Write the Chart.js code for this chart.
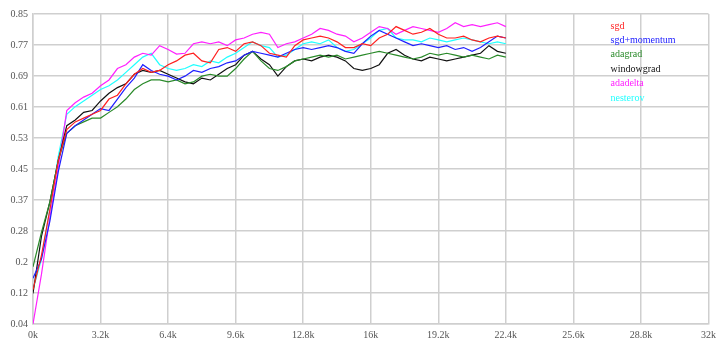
<!DOCTYPE html>
<html>
<head>
<meta charset="utf-8">
<script src="https://cdn.jsdelivr.net/npm/chart.js@4.4.0/dist/chart.umd.min.js"></script>
<style>
html,body{margin:0;padding:0;background:#fff;}
#wrap{width:721px;height:344px;position:relative;}
</style>
</head>
<body>
<div id="wrap"><canvas id="c" width="721" height="344"></canvas></div>
<script>
// iterations (every 400)
const iterations = [];
for (let i = 0; i <= 56; i++) iterations.push(i * 400);

const seriesNames = ["sgd", "sgd+momentum", "adagrad", "windowgrad", "adadelta", "nesterov"];
const seriesColors = ["#ff2020", "#2020ff", "#2a8a2a", "#111111", "#ff20ff", "#20ffff"];

const sgd = [0.13,0.22,0.34,0.47,0.55,0.57,0.58,0.59,0.60,0.63,0.64,0.67,0.695,0.71,0.70,0.705,0.72,0.73,0.745,0.75,0.73,0.725,0.76,0.765,0.755,0.775,0.78,0.77,0.75,0.745,0.74,0.77,0.785,0.79,0.795,0.79,0.78,0.765,0.765,0.775,0.77,0.79,0.80,0.82,0.81,0.80,0.805,0.815,0.80,0.79,0.79,0.795,0.785,0.78,0.79,0.795,0.79];
const sgdMomentum = [0.16,0.21,0.31,0.44,0.54,0.56,0.575,0.59,0.605,0.60,0.63,0.66,0.685,0.72,0.705,0.695,0.69,0.68,0.69,0.705,0.70,0.71,0.715,0.725,0.73,0.745,0.755,0.75,0.745,0.74,0.75,0.76,0.765,0.76,0.765,0.77,0.765,0.755,0.75,0.775,0.795,0.81,0.80,0.79,0.78,0.77,0.775,0.77,0.765,0.77,0.76,0.765,0.755,0.765,0.78,0.795,0.79];
const adagrad = [0.19,0.28,0.36,0.47,0.54,0.56,0.57,0.58,0.58,0.595,0.61,0.63,0.655,0.67,0.68,0.68,0.675,0.68,0.67,0.675,0.69,0.695,0.69,0.69,0.71,0.735,0.755,0.73,0.71,0.705,0.715,0.73,0.735,0.74,0.745,0.74,0.745,0.735,0.74,0.745,0.75,0.755,0.75,0.745,0.74,0.735,0.74,0.75,0.745,0.75,0.745,0.74,0.745,0.74,0.735,0.745,0.74];
const windowgrad = [0.12,0.27,0.36,0.47,0.56,0.575,0.595,0.60,0.625,0.645,0.66,0.67,0.695,0.705,0.70,0.705,0.695,0.685,0.675,0.67,0.685,0.68,0.695,0.71,0.72,0.745,0.755,0.735,0.72,0.69,0.715,0.73,0.735,0.73,0.74,0.745,0.74,0.73,0.71,0.705,0.71,0.72,0.75,0.76,0.745,0.735,0.73,0.74,0.735,0.73,0.735,0.74,0.745,0.75,0.77,0.755,0.75];
const adadelta = [0.04,0.17,0.32,0.45,0.60,0.62,0.635,0.645,0.665,0.68,0.71,0.72,0.74,0.75,0.745,0.77,0.76,0.748,0.75,0.775,0.78,0.775,0.78,0.77,0.785,0.79,0.80,0.805,0.80,0.765,0.775,0.78,0.79,0.80,0.815,0.81,0.80,0.795,0.78,0.79,0.805,0.82,0.815,0.80,0.81,0.82,0.815,0.81,0.805,0.815,0.83,0.82,0.825,0.82,0.825,0.83,0.82];
const nesterov = [0.13,0.21,0.34,0.48,0.59,0.61,0.625,0.64,0.655,0.665,0.68,0.70,0.72,0.74,0.75,0.72,0.71,0.705,0.71,0.72,0.715,0.73,0.725,0.74,0.75,0.765,0.78,0.77,0.765,0.74,0.745,0.76,0.775,0.78,0.775,0.785,0.765,0.755,0.76,0.775,0.79,0.81,0.815,0.79,0.785,0.785,0.78,0.79,0.785,0.78,0.785,0.79,0.785,0.78,0.775,0.78,0.775];

const seriesValues = [sgd, sgdMomentum, adagrad, windowgrad, adadelta, nesterov];

const yTickValues = [0.04,0.1213,0.2026,0.2839,0.3652,0.4465,0.5278,0.6091,0.6904,0.7717,0.853];
const yTickLabels = ["0.04","0.12","0.2","0.28","0.37","0.45","0.53","0.61","0.69","0.77","0.85"];
const xTickLabels = ["0k","3.2k","6.4k","9.6k","12.8k","16k","19.2k","22.4k","25.6k","28.8k","32k"];

const FONT = {family: "'Liberation Serif', 'DejaVu Serif', serif", size: 10};

const datasets = seriesNames.map((n, k) => ({
  label: n,
  data: iterations.map((x, i) => ({x: x, y: seriesValues[k][i]})),
  borderColor: seriesColors[k],
  borderWidth: 1.2,
  pointRadius: 0,
  tension: 0,
  fill: false
}));

const legendPlugin = {
  id: 'innerLegend',
  afterDatasetsDraw(chart) {
    const ctx = chart.ctx;
    const a = chart.chartArea;
    ctx.save();
    ctx.font = FONT.size + "px " + FONT.family;
    ctx.textBaseline = 'middle';
    ctx.textAlign = 'left';
    chart.data.datasets.forEach((d, i) => {
      ctx.fillStyle = d.borderColor;
      ctx.fillText(d.label, a.right - 98, a.top + 12 + i * 14.4);
    });
    ctx.restore();
  }
};

new Chart(document.getElementById('c'), {
  type: 'line',
  data: {datasets},
  plugins: [legendPlugin],
  options: {
    responsive: false,
    animation: false,
    layout: {padding: {top: 14, right: 11, left: 0, bottom: 0}},
    plugins: {legend: {display: false}, tooltip: {enabled: false}},
    scales: {
      x: {
        type: 'linear',
        min: 0, max: 32000,
        afterBuildTicks(ax) { ax.ticks = xTickLabels.map((l, i) => ({value: i * 3200})); },
        afterFit(ax) { ax.height = 20; },
        ticks: {
          callback: (v, i) => xTickLabels[i],
          font: FONT, color: '#555', padding: 5, maxRotation: 0, autoSkip: false
        },
        grid: {color: '#cfcfcf', lineWidth: 1.5, drawTicks: false},
        border: {color: '#cfcfcf', width: 1.5}
      },
      y: {
        type: 'linear',
        min: 0.04, max: 0.853,
        afterBuildTicks(ax) { ax.ticks = yTickValues.map(v => ({value: v})); },
        afterFit(ax) { ax.width = 33; },
        ticks: {
          callback: (v, i) => yTickLabels[i],
          font: FONT, color: '#555', padding: 5, autoSkip: false
        },
        grid: {color: '#cfcfcf', lineWidth: 1.5, drawTicks: false},
        border: {color: '#cfcfcf', width: 1.5}
      }
    }
  }
});
</script>
</body>
</html>
